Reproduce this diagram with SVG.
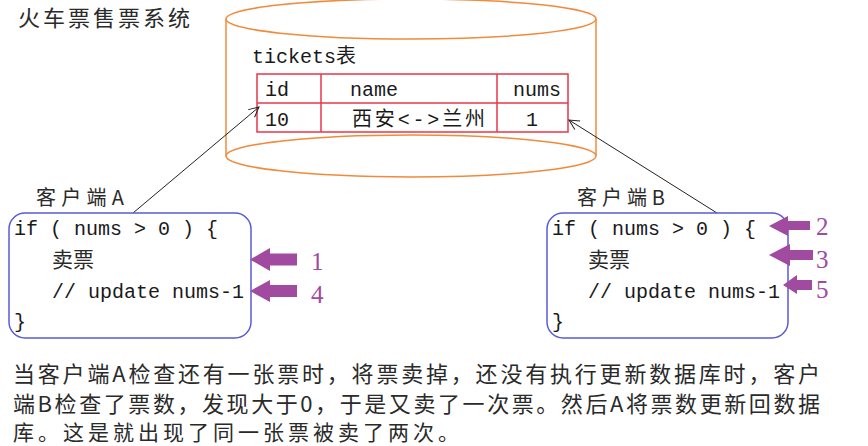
<svg xmlns="http://www.w3.org/2000/svg" width="868" height="446" viewBox="0 0 868 446">
<defs>
<style>
.cjk{font-family:"Noto Sans CJK SC","Noto Sans",sans-serif;fill:#2a2a2a}
.mono{font-family:"Liberation Mono","Noto Sans CJK SC",monospace;font-size:20px;fill:#1a1a1a}
.cyl{fill:none;stroke:#f28a3c;stroke-width:1.5}
.tbl{fill:none;stroke:#e8374a;stroke-width:1.5}
.box{fill:none;stroke:#5a5ad8;stroke-width:1.5}
.conn{fill:none;stroke:#222;stroke-width:1}
.blk{fill:#a04aa0}
.num{font-family:"Liberation Serif",serif;font-size:25px;fill:#a04aa0}
</style>
<marker id="open" viewBox="0 0 12 12" refX="11" refY="6" markerWidth="12" markerHeight="12" markerUnits="userSpaceOnUse" orient="auto">
<path d="M1,1 L11,6 L1,11" fill="none" stroke="#222" stroke-width="1"/>
</marker>
</defs>
<rect width="868" height="446" fill="#fff"/>
<text class="cjk" x="18" y="26" font-size="22" textLength="172">火车票售票系统</text>

<g id="db">
<path class="cyl" d="M226,19 L226,156 A185,21 0 0 0 596,156 L596,19"/>
<ellipse class="cyl" cx="411" cy="19" rx="185" ry="20"/>
<path class="cyl" d="M226,156 A185,21 0 0 1 596,156"/>
<text class="mono" x="252" y="63">tickets表</text>
<rect class="tbl" x="257" y="74" width="311" height="58"/>
<line class="tbl" x1="257" y1="103" x2="568" y2="103"/>
<line class="tbl" x1="321" y1="74" x2="321" y2="132"/>
<line class="tbl" x1="497" y1="74" x2="497" y2="132"/>
<text class="mono" x="265" y="96">id</text>
<text class="mono" x="350" y="96">name</text>
<text class="mono" x="513" y="96">nums</text>
<text class="mono" x="265" y="126">10</text>
<text class="mono" x="352" y="126" textLength="133">西安&lt;-&gt;兰州</text>
<text class="mono" x="526" y="126">1</text>
</g>

<g id="connectors">
<line class="conn" x1="133" y1="213" x2="259" y2="107" marker-end="url(#open)"/>
<line class="conn" x1="717" y1="213" x2="569" y2="120" marker-end="url(#open)"/>
</g>

<g id="clientA">
<text class="cjk" x="36" y="205" font-size="20" textLength="88">客户端A</text>
<rect class="box" x="9" y="213" width="242" height="125" rx="16"/>
<text class="mono" x="14" y="235">if ( nums &gt; 0 ) {</text>
<text class="cjk" x="52" y="267" font-size="21">卖票</text>
<text class="mono" x="52" y="298">// update nums-1</text>
<text class="mono" x="14" y="328">}</text>
</g>

<g id="clientB">
<text class="cjk" x="577" y="205" font-size="20" textLength="88">客户端B</text>
<rect class="box" x="547" y="213" width="241" height="125" rx="16"/>
<text class="mono" x="552" y="235">if ( nums &gt; 0 ) {</text>
<text class="cjk" x="588" y="267" font-size="21">卖票</text>
<text class="mono" x="588" y="298">// update nums-1</text>
<text class="mono" x="552" y="328">}</text>
</g>

<g id="steps">
<path class="blk" d="M250,259.5 L270,248 L270,253.5 L297,253.5 L297,265.5 L270,265.5 L270,271 Z"/>
<text class="num" x="311" y="270">1</text>
<path class="blk" d="M250,291 L270,280 L270,285 L297,285 L297,297 L270,297 L270,302 Z"/>
<text class="num" x="311" y="303">4</text>
<path class="blk" d="M769,226 L788,216 L788,221 L810,221 L810,230 L788,230 L788,236 Z"/>
<text class="num" x="816" y="235">2</text>
<path class="blk" d="M769,255 L790,244 L790,250 L813,250 L813,260 L790,260 L790,266 Z"/>
<text class="num" x="816" y="268">3</text>
<path class="blk" d="M783,285 L797,275 L797,280 L812,280 L812,290 L797,290 L797,294 Z"/>
<text class="num" x="816" y="298">5</text>
</g>

<g id="note">
<text class="cjk" x="13" y="382" font-size="22" textLength="807">当客户端A检查还有一张票时，将票卖掉，还没有执行更新数据库时，客户</text>
<text class="cjk" x="13" y="412" font-size="22" textLength="807">端B检查了票数，发现大于0，于是又卖了一次票。然后A将票数更新回数据</text>
<text class="cjk" x="13" y="440" font-size="21" textLength="446">库。这是就出现了同一张票被卖了两次。</text>
</g>
</svg>
